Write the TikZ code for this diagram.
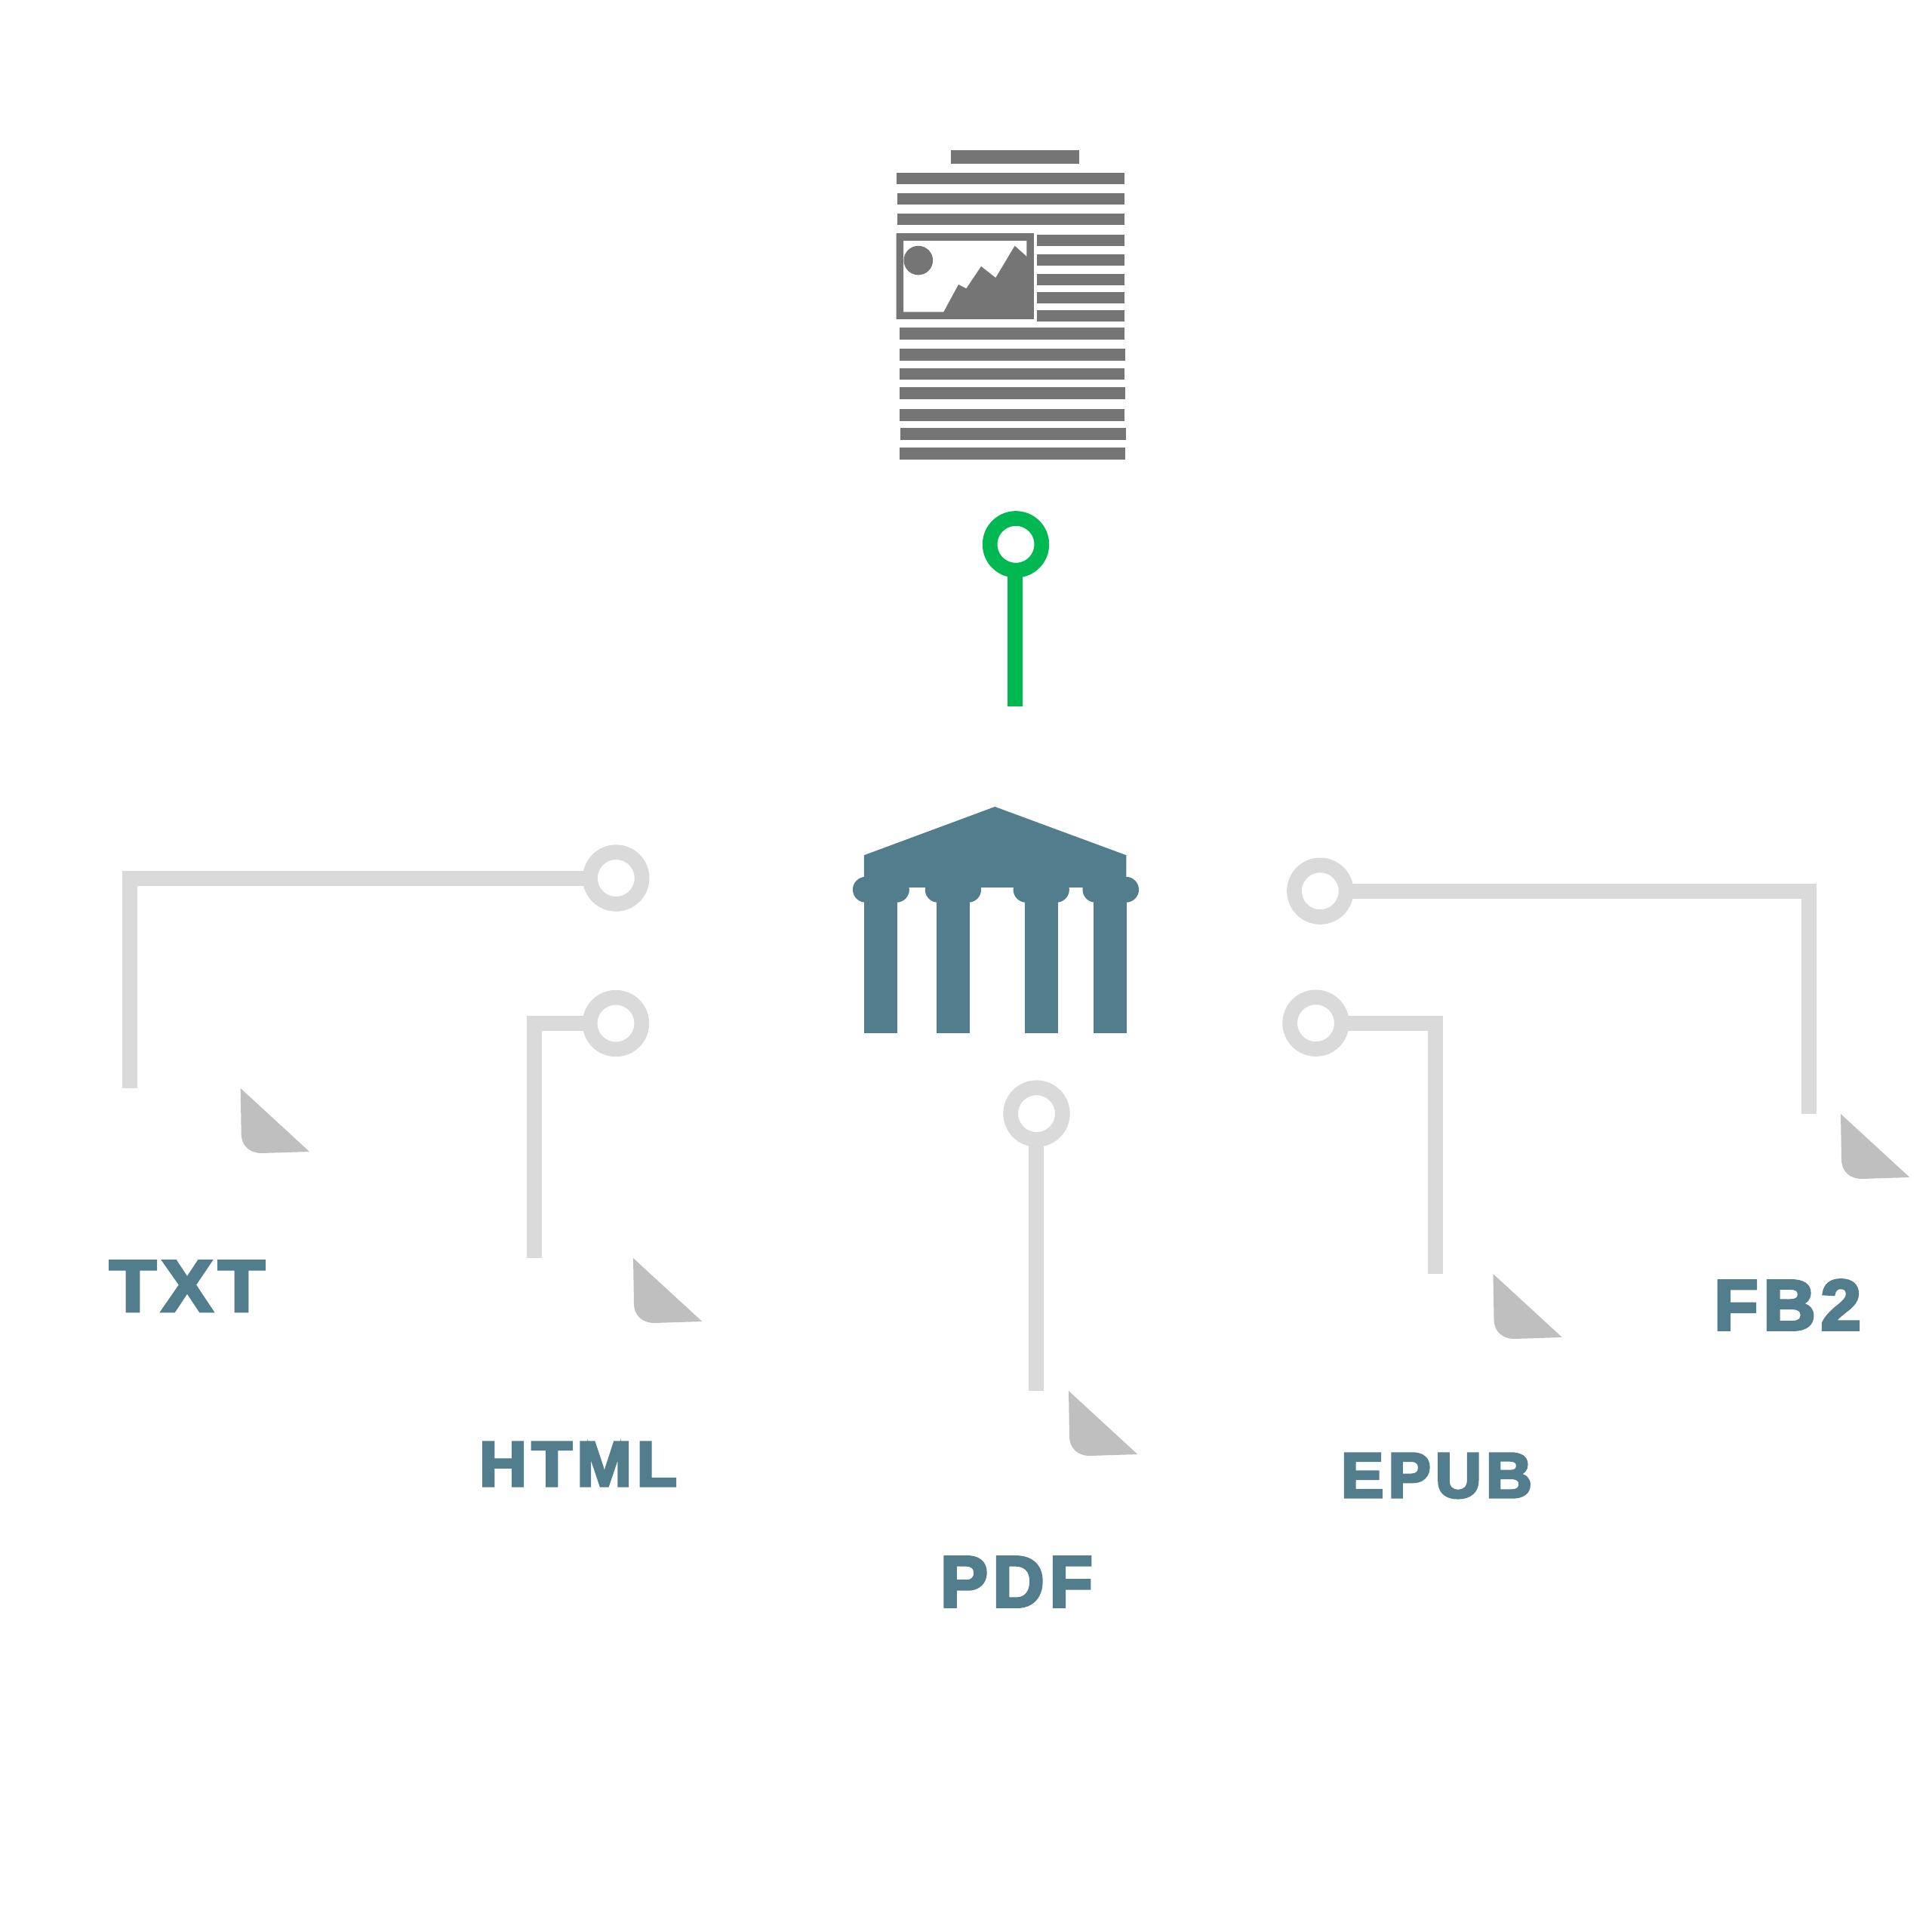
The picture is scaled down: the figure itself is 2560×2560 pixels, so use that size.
\documentclass[tikz,border=0pt]{standalone}
\usepackage{fontspec}
\usepackage{graphicx}
\newfontfamily\lblfont[Kerning=Off,LetterSpace=7,BoldFeatures={FakeBold=4}]{Liberation Sans}
\definecolor{barc}{RGB}{117,117,117}
\definecolor{ringc}{RGB}{218,218,218}
\definecolor{foldc}{RGB}{191,191,191}
\definecolor{tealc}{RGB}{82,125,141}
\definecolor{greenc}{RGB}{0,184,82}
\tikzset{
  ring/.style={circle,draw=#1,line width=0.197cm,minimum size=0.686cm,inner sep=0pt,outer sep=0pt},
  conn/.style={draw=#1,line width=0.2cm,line join=miter,line cap=butt},
  lbl/.style={anchor=base west,inner sep=0pt,outer sep=0pt,text=tealc},
  bar/.style={fill=barc},
  temple/.style={fill=tealc},
  foldshape/.style={fill=foldc}
}
\newcommand{\lbltext}[3]{\resizebox{#1cm}{#2cm}{\lblfont\bfseries\fontsize{20}{24}\selectfont #3}}
\newcommand{\foldat}[2]{\fill[foldshape,shift={(#1,#2)}] (0,0) -- (1,60) .. controls (1,76) and (12,86) .. (28,86) -- (91.3,84) -- cycle;}
\begin{document}
\begin{tikzpicture}[x=0.01cm,y=-0.01cm]
\useasboundingbox (0,0) rectangle (2560,2560);
\fill[white] (0,0) rectangle (2560,2560);

% document icon
\begin{scope}[shift={(1100,170)},x=0.003333cm,y=-0.003333cm]
  \foreach \xa/\xb/\ya/\yb in {481/993/87/140,265/1172/177/223,266/1173/258/304,266/1172/339/385,
    824/1172/425/470,824/1172/503/548,824/1172/581/626,824/1172/652/697,824/1172/723/768,
    275/1172/793/841,277/1175/878/925,275/1172/955/1002,277/1175/1032/1080,276/1173/1117/1165,279/1177/1194/1242,277/1175/1272/1319}
    {\fill[bar] (\xa,\ya) rectangle (\xb,\yb);}
  \fill[bar,even odd rule] (263,418) rectangle (811,760) (292,447) rectangle (782,731);
  \fill[bar] (452,731) -- (511,622) -- (542,638) -- (601,550) -- (659,595) -- (735,468) -- (782,510) -- (790,517) -- (790,740) -- (452,740) -- cycle;
  \fill[bar] (351,526) circle (58);
\end{scope}

% temple icon
\begin{scope}[shift={(1100,1040)},x=0.003333cm,y=-0.003333cm]
  \fill[temple] (135,280) -- (656,87) -- (1179,280) -- (1179,408) -- (135,408) -- cycle;
  \foreach \xa/\xb in {135/267,423/555,774/906,1050/1182}
    {\fill[temple] (\xa,400) rectangle (\xb,990);}
  \foreach \cx in {141,264,429,550,780,901,1056,1178}
    {\fill[temple] (\cx,417) circle (51);}
\end{scope}

% rings
\node[ring=greenc] (rdoc) at (1346,721.3) {};
\node[ring=ringc] (rtxt) at (816.3,1163.5) {};
\node[ring=ringc] (rhtml) at (816,1356) {};
\node[ring=ringc] (rpdf) at (1373.5,1475.6) {};
\node[ring=ringc] (repub) at (1743.5,1355.7) {};
\node[ring=ringc] (rfb) at (1749.3,1180.7) {};

% free ends
\coordinate (edoc) at (1345,936);
\coordinate (etxt) at (172,1441.7);
\coordinate (ehtml) at (708,1667);
\coordinate (epdf) at (1373,1843);
\coordinate (eepub) at (1902,1687.7);
\coordinate (efb) at (2397,1476);

% connectors
\draw[conn=greenc] (rdoc.south -| edoc) -- (edoc);
\draw[conn=ringc] (rtxt.west) -| (etxt);
\draw[conn=ringc] (rhtml.west) -| (ehtml);
\draw[conn=ringc] (rpdf.south -| epdf) -- (epdf);
\draw[conn=ringc] (repub.east) -| (eepub);
\draw[conn=ringc] (rfb.east) -| (efb);

% page folds
\foldat{318.7}{1442}
\foldat{839}{1667}
\foldat{1416}{1843}
\foldat{1978.5}{1688}
\foldat{2439}{1476}

% labels
\node[lbl] (ltxt) at (145,1737.5) {\lbltext{2.06}{0.665}{TXT}};
\node[lbl] (lhtml) at (635,1969) {\lbltext{2.62}{0.58}{HTML}};
\node[lbl] (lpdf) at (1246,2129) {\lbltext{2.02}{0.66}{PDF}};
\node[lbl] (lepub) at (1777,1984) {\lbltext{2.53}{0.58}{EPUB}};
\node[lbl] (lfb) at (2271,1762) {\lbltext{1.95}{0.66}{FB2}};
\end{tikzpicture}
\end{document}
